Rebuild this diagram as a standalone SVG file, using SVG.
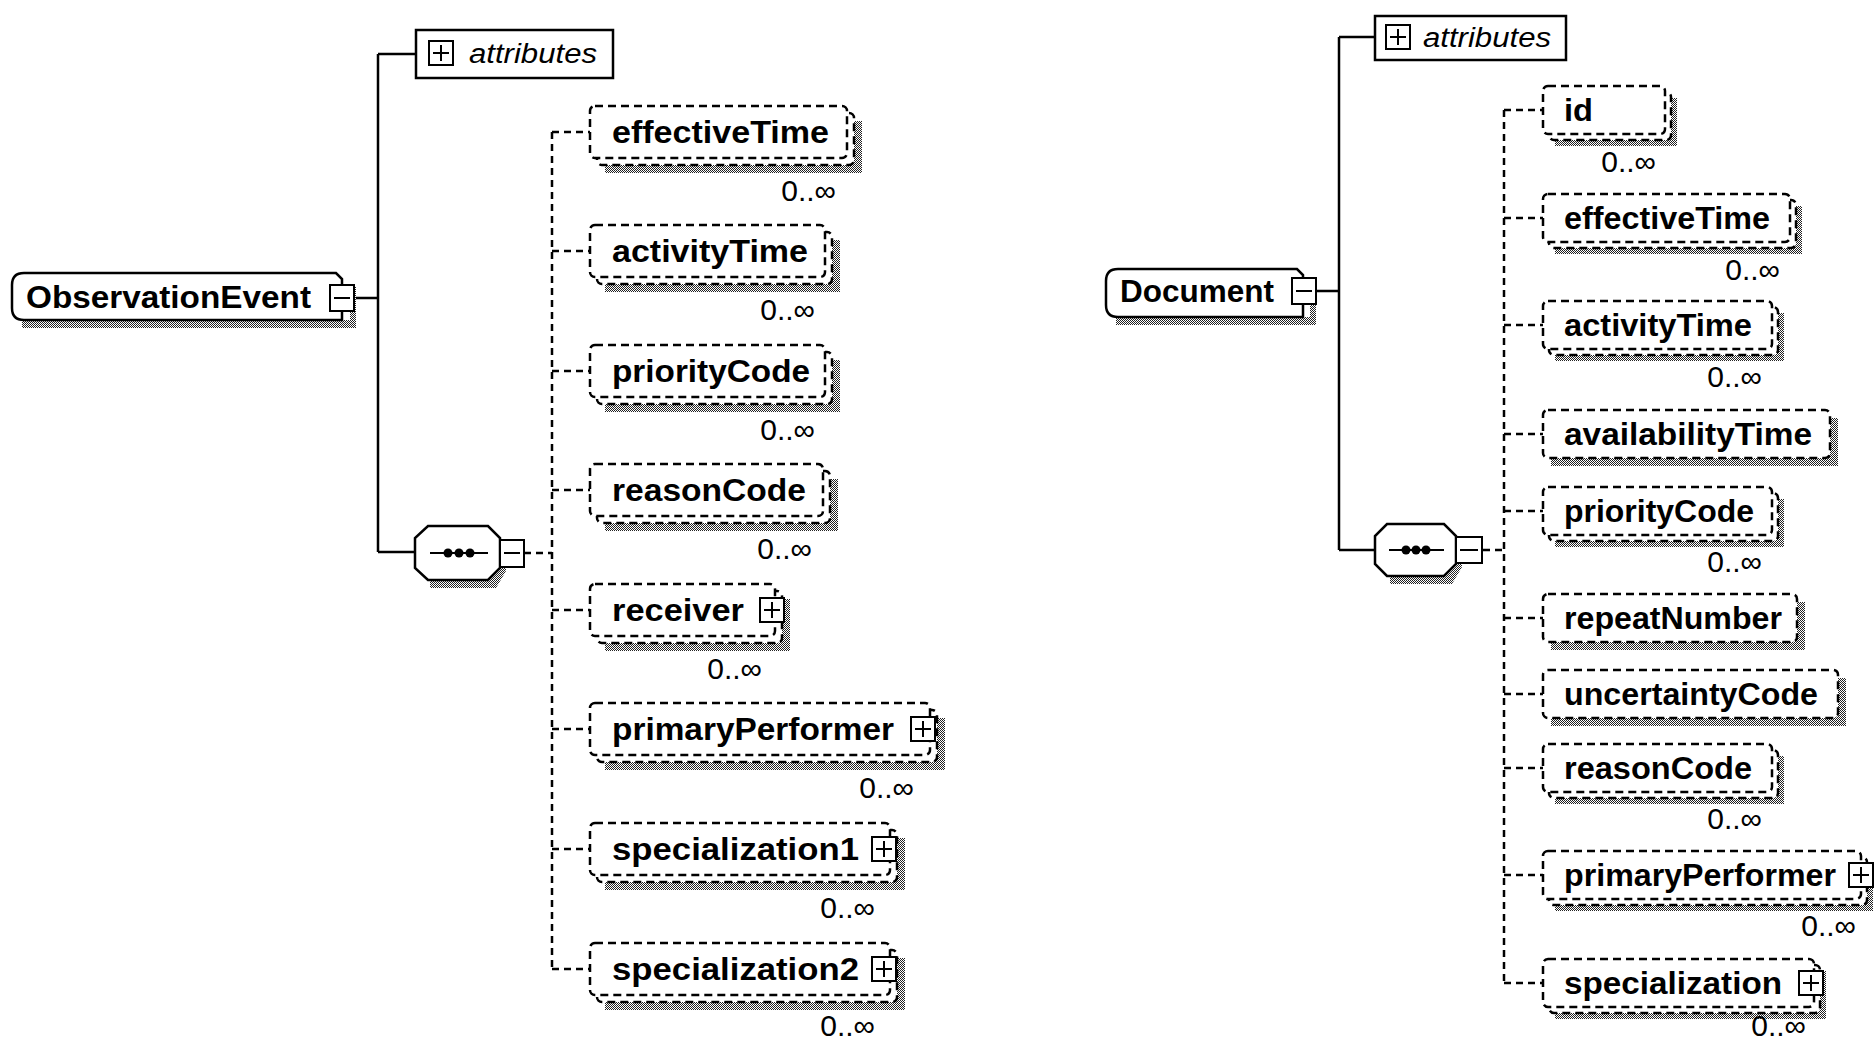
<svg xmlns="http://www.w3.org/2000/svg" width="1875" height="1045" viewBox="0 0 1875 1045">
<style>
.bg{fill:#fff}
.solid{fill:none;stroke:#000;stroke-width:2.5}
.dash{fill:none;stroke:#000;stroke-width:2.5;stroke-dasharray:7 5}
.box{fill:#fff;stroke:#000;stroke-width:2.5;stroke-dasharray:8 5}
.sbox{fill:#fff;stroke:#000;stroke-width:2.5}
.shadow{fill:url(#chk)}
.lbl{font-family:"Liberation Sans",Arial,sans-serif;font-weight:bold;font-size:31px;fill:#000}
.mult{font-family:"Liberation Sans",Arial,sans-serif;font-size:30px;fill:#000}
.attr{font-family:"Liberation Sans",Arial,sans-serif;font-style:italic;font-size:27px;fill:#000}
.icon{fill:#fff;stroke:#000;stroke-width:2}
.iline{stroke:#000;stroke-width:2}
</style>
<defs>
<pattern id="chk" width="2" height="2" patternUnits="userSpaceOnUse">
<rect width="2" height="2" fill="#fff"/>
<rect width="1" height="1" fill="#222"/>
<rect x="1" y="1" width="1" height="1" fill="#222"/>
</pattern>
<g id="plus">
<rect class="icon" x="0" y="0" width="24" height="24"/>
<path class="iline" d="M12 4V20M4 12H20"/>
</g>
<g id="minus">
<rect class="icon" x="0" y="0" width="24" height="26"/>
<path class="iline" d="M4 13H20"/>
</g>
</defs>
<rect class="bg" width="1875" height="1045"/>

<g id="connectors">
<path class="solid" d="M354 298H378M378 54V552M378 54H416M378 552H415"/>
<path class="dash" d="M524 553H552M552 132V969"/>
<path class="dash" d="M552 132H590M552 251H590M552 371H590M552 490H590M552 610H590M552 729H590M552 849H590M552 969H590"/>
<path class="solid" d="M1316 291H1339M1339 37V550M1339 37H1375M1339 550H1375"/>
<path class="dash" d="M1483 550H1504M1504 110V983"/>
<path class="dash" d="M1504 110H1543M1504 218H1543M1504 325H1543M1504 434H1543M1504 511H1543M1504 618H1543M1504 694H1543M1504 768H1543M1504 875H1543M1504 983H1543"/>
</g>

<!-- LEFT DIAGRAM -->
<g id="attributes-left">
<rect class="sbox" x="416" y="30" width="197" height="48"/>
<use href="#plus" x="429" y="41"/>
<text class="attr" x="469" y="63" textLength="128" lengthAdjust="spacingAndGlyphs">attributes</text>
</g>

<g id="ObservationEvent">
<path class="shadow" d="M22 320H350V286H356V328H22Z"/>
<path class="sbox" d="M24 273H336L342 279V320H24Q12 320 12 308V285Q12 273 24 273Z"/>
<text class="lbl" x="26" y="308" textLength="285" lengthAdjust="spacingAndGlyphs">ObservationEvent</text>
<use href="#minus" x="330" y="285"/>
</g>

<g id="sequence-left">
<path class="shadow" d="M430 580H490L506 564V571L496 588H430Z"/>
<path class="sbox" d="M428 526H488L500 538V568L488 580H428L415 568V538Z"/>
<path class="iline" d="M430 553H488"/>
<circle cx="448" cy="553" r="4.5"/><circle cx="459" cy="553" r="4.5"/><circle cx="470" cy="553" r="4.5"/>
<rect class="icon" x="500" y="540" width="24" height="27"/>
<path class="iline" d="M504 553H520"/>
</g>

<g id="effectiveTime-left">
<rect class="shadow" x="605" y="121" width="257" height="52"/>
<rect class="box" x="597" y="113" width="257" height="52" rx="5"/>
<rect class="box" x="590" y="106" width="257" height="52" rx="5"/>
<text class="lbl" x="612" y="143" textLength="217" lengthAdjust="spacingAndGlyphs">effectiveTime</text>
<text class="mult" x="836" y="201" text-anchor="end">0..∞</text>
</g>

<g id="activityTime-left">
<rect class="shadow" x="605" y="240" width="235" height="52"/>
<rect class="box" x="597" y="232" width="235" height="52" rx="5"/>
<rect class="box" x="590" y="225" width="235" height="52" rx="5"/>
<text class="lbl" x="612" y="262" textLength="196" lengthAdjust="spacingAndGlyphs">activityTime</text>
<text class="mult" x="815" y="320" text-anchor="end">0..∞</text>
</g>

<g id="priorityCode-left">
<rect class="shadow" x="605" y="360" width="235" height="52"/>
<rect class="box" x="597" y="352" width="235" height="52" rx="5"/>
<rect class="box" x="590" y="345" width="235" height="52" rx="5"/>
<text class="lbl" x="612" y="382" textLength="198" lengthAdjust="spacingAndGlyphs">priorityCode</text>
<text class="mult" x="815" y="440" text-anchor="end">0..∞</text>
</g>

<g id="reasonCode-left">
<rect class="shadow" x="605" y="479" width="233" height="52"/>
<rect class="box" x="597" y="471" width="233" height="52" rx="5"/>
<rect class="box" x="590" y="464" width="233" height="52" rx="5"/>
<text class="lbl" x="612" y="501" textLength="194" lengthAdjust="spacingAndGlyphs">reasonCode</text>
<text class="mult" x="812" y="559" text-anchor="end">0..∞</text>
</g>

<g id="receiver-left">
<rect class="shadow" x="605" y="599" width="185" height="52"/>
<rect class="box" x="597" y="591" width="185" height="52" rx="5"/>
<rect class="box" x="590" y="584" width="185" height="52" rx="5"/>
<text class="lbl" x="612" y="621" textLength="132" lengthAdjust="spacingAndGlyphs">receiver</text>
<use href="#plus" x="760" y="598"/>
<text class="mult" x="762" y="679" text-anchor="end">0..∞</text>
</g>

<g id="primaryPerformer-left">
<rect class="shadow" x="605" y="718" width="340" height="52"/>
<rect class="box" x="597" y="710" width="340" height="52" rx="5"/>
<rect class="box" x="590" y="703" width="340" height="52" rx="5"/>
<text class="lbl" x="612" y="740" textLength="282" lengthAdjust="spacingAndGlyphs">primaryPerformer</text>
<use href="#plus" x="911" y="717"/>
<text class="mult" x="914" y="798" text-anchor="end">0..∞</text>
</g>

<g id="specialization1-left">
<rect class="shadow" x="605" y="838" width="300" height="52"/>
<rect class="box" x="597" y="830" width="300" height="52" rx="5"/>
<rect class="box" x="590" y="823" width="300" height="52" rx="5"/>
<text class="lbl" x="612" y="860" textLength="247" lengthAdjust="spacingAndGlyphs">specialization1</text>
<use href="#plus" x="872" y="837"/>
<text class="mult" x="875" y="918" text-anchor="end">0..∞</text>
</g>

<g id="specialization2-left">
<rect class="shadow" x="605" y="958" width="300" height="52"/>
<rect class="box" x="597" y="950" width="300" height="52" rx="5"/>
<rect class="box" x="590" y="943" width="300" height="52" rx="5"/>
<text class="lbl" x="612" y="980" textLength="247" lengthAdjust="spacingAndGlyphs">specialization2</text>
<use href="#plus" x="872" y="957"/>
<text class="mult" x="875" y="1036" text-anchor="end">0..∞</text>
</g>

<!-- RIGHT DIAGRAM -->
<g id="attributes-right">
<rect class="sbox" x="1375" y="16" width="191" height="44"/>
<use href="#plus" x="1386" y="25"/>
<text class="attr" x="1423" y="47" textLength="128" lengthAdjust="spacingAndGlyphs">attributes</text>
</g>

<g id="Document">
<path class="shadow" d="M1116 317H1310V304H1316V325H1116Z"/>
<path class="sbox" d="M1118 269H1297L1303 275V317H1118Q1106 317 1106 305V281Q1106 269 1118 269Z"/>
<text class="lbl" x="1120" y="302" textLength="154" lengthAdjust="spacingAndGlyphs">Document</text>
<use href="#minus" x="1292" y="278"/>
</g>

<g id="sequence-right">
<path class="shadow" d="M1390 576H1446L1462 560V567L1452 584H1390Z"/>
<path class="sbox" d="M1387 524H1444L1456 536V564L1444 576H1387L1375 564V536Z"/>
<path class="iline" d="M1389 550H1444"/>
<circle cx="1406" cy="550" r="4.5"/><circle cx="1416" cy="550" r="4.5"/><circle cx="1426" cy="550" r="4.5"/>
<rect class="icon" x="1456" y="537" width="26" height="26"/>
<path class="iline" d="M1460 550H1478"/>
</g>

<g id="id-right">
<rect class="shadow" x="1555" y="98" width="122" height="48"/>
<rect class="box" x="1549" y="92" width="122" height="48" rx="5"/>
<rect class="box" x="1543" y="86" width="122" height="48" rx="5"/>
<text class="lbl" x="1564" y="121" textLength="29" lengthAdjust="spacingAndGlyphs">id</text>
<text class="mult" x="1656" y="172" text-anchor="end">0..∞</text>
</g>

<g id="effectiveTime-right">
<rect class="shadow" x="1555" y="206" width="247" height="48"/>
<rect class="box" x="1549" y="200" width="247" height="48" rx="5"/>
<rect class="box" x="1543" y="194" width="247" height="48" rx="5"/>
<text class="lbl" x="1564" y="229" textLength="206" lengthAdjust="spacingAndGlyphs">effectiveTime</text>
<text class="mult" x="1780" y="280" text-anchor="end">0..∞</text>
</g>

<g id="activityTime-right">
<rect class="shadow" x="1555" y="313" width="229" height="48"/>
<rect class="box" x="1549" y="307" width="229" height="48" rx="5"/>
<rect class="box" x="1543" y="301" width="229" height="48" rx="5"/>
<text class="lbl" x="1564" y="336" textLength="188" lengthAdjust="spacingAndGlyphs">activityTime</text>
<text class="mult" x="1762" y="387" text-anchor="end">0..∞</text>
</g>

<g id="availabilityTime-right">
<rect class="shadow" x="1551" y="418" width="287" height="48"/>
<rect class="box" x="1543" y="410" width="287" height="48" rx="5"/>
<text class="lbl" x="1564" y="445" textLength="248" lengthAdjust="spacingAndGlyphs">availabilityTime</text>
</g>

<g id="priorityCode-right">
<rect class="shadow" x="1555" y="499" width="229" height="48"/>
<rect class="box" x="1549" y="493" width="229" height="48" rx="5"/>
<rect class="box" x="1543" y="487" width="229" height="48" rx="5"/>
<text class="lbl" x="1564" y="522" textLength="190" lengthAdjust="spacingAndGlyphs">priorityCode</text>
<text class="mult" x="1762" y="572" text-anchor="end">0..∞</text>
</g>

<g id="repeatNumber-right">
<rect class="shadow" x="1551" y="602" width="254" height="48"/>
<rect class="box" x="1543" y="594" width="254" height="48" rx="5"/>
<text class="lbl" x="1564" y="629" textLength="218" lengthAdjust="spacingAndGlyphs">repeatNumber</text>
</g>

<g id="uncertaintyCode-right">
<rect class="shadow" x="1551" y="678" width="295" height="48"/>
<rect class="box" x="1543" y="670" width="295" height="48" rx="5"/>
<text class="lbl" x="1564" y="705" textLength="254" lengthAdjust="spacingAndGlyphs">uncertaintyCode</text>
</g>

<g id="reasonCode-right">
<rect class="shadow" x="1555" y="756" width="229" height="48"/>
<rect class="box" x="1549" y="750" width="229" height="48" rx="5"/>
<rect class="box" x="1543" y="744" width="229" height="48" rx="5"/>
<text class="lbl" x="1564" y="779" textLength="188" lengthAdjust="spacingAndGlyphs">reasonCode</text>
<text class="mult" x="1762" y="829" text-anchor="end">0..∞</text>
</g>

<g id="primaryPerformer-right">
<rect class="shadow" x="1555" y="863" width="318" height="48"/>
<rect class="box" x="1549" y="857" width="318" height="48" rx="5"/>
<rect class="box" x="1543" y="851" width="318" height="48" rx="5"/>
<text class="lbl" x="1564" y="886" textLength="272" lengthAdjust="spacingAndGlyphs">primaryPerformer</text>
<use href="#plus" x="1849" y="863"/>
<text class="mult" x="1856" y="936" text-anchor="end">0..∞</text>
</g>

<g id="specialization-right">
<rect class="shadow" x="1555" y="971" width="271" height="48"/>
<rect class="box" x="1549" y="965" width="271" height="48" rx="5"/>
<rect class="box" x="1543" y="959" width="271" height="48" rx="5"/>
<text class="lbl" x="1564" y="994" textLength="218" lengthAdjust="spacingAndGlyphs">specialization</text>
<use href="#plus" x="1799" y="971"/>
<text class="mult" x="1806" y="1036" text-anchor="end">0..∞</text>
</g>
</svg>
